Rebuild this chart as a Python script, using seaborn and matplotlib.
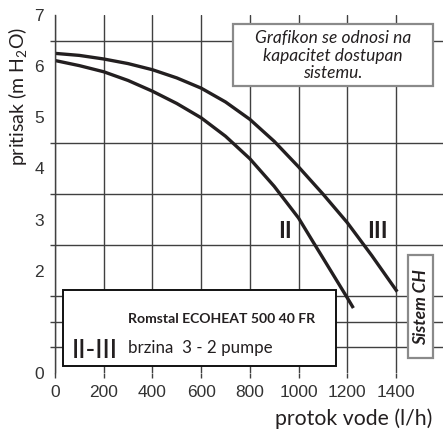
import matplotlib
matplotlib.use("Agg")
import matplotlib.pyplot as plt
import pandas as pd
import seaborn as sns
from matplotlib.patches import Rectangle

# pump curves (flow l/h, head m H2O)
flow_iii = [0, 100, 200, 300, 400, 500, 600, 700, 800, 900, 1000, 1100, 1200, 1300, 1405]
head_iii = [6.25, 6.21, 6.14, 6.05, 5.93, 5.77, 5.57, 5.30, 4.96, 4.53, 4.03, 3.50, 2.94, 2.30, 1.59]
flow_ii = [0, 100, 200, 300, 400, 500, 600, 700, 800, 900, 1000, 1060, 1100, 1150, 1200, 1225]
head_ii = [6.11, 6.01, 5.89, 5.72, 5.51, 5.27, 4.99, 4.63, 4.19, 3.65, 3.03, 2.56, 2.25, 1.86, 1.47, 1.27]

x_ticks = [0, 200, 400, 600, 800, 1000, 1200, 1400]
y_labels = [0, 2, 3, 4, 5, 6, 7]
y_grid = [0.5, 1, 1.5, 2, 2.5, 3, 3.5, 4, 4.5, 6, 6.5]

df = pd.concat([
    pd.DataFrame({"protok": flow_iii, "pritisak": head_iii, "brzina": "III"}),
    pd.DataFrame({"protok": flow_ii, "pritisak": head_ii, "brzina": "II"}),
])

sns.set_theme(style="white")
plt.rcParams["font.family"] = ["Lato", "DejaVu Sans"]
plt.rcParams["mathtext.fontset"] = "custom"
plt.rcParams["mathtext.rm"] = "Lato"
plt.rcParams["mathtext.it"] = "Lato:italic"

W, H = 443, 432
GRID = "#404040"
INK = "#231f20"

fig = plt.figure(figsize=(W / 100, H / 100), dpi=100)
ax = fig.add_axes([55 / W, 59 / H, 388 / W, 358 / H])

#%%
sns.lineplot(data=df, x="protok", y="pritisak", hue="brzina",
             palette=[INK, INK], lw=2.4, legend=False, ax=ax)
for line in ax.lines:
    line.set_solid_capstyle("butt")
    line.set_solid_joinstyle("round")

ax.set_xlim(0, 1593)
ax.set_ylim(0, 7)
ax.set_xlabel("")
ax.set_ylabel("")

for s in ["top", "right", "bottom"]:
    ax.spines[s].set_visible(False)
ax.spines["left"].set_color(GRID)
ax.spines["left"].set_linewidth(1.0)

ax.set_xticks(x_ticks)
ax.set_xticklabels([str(v) for v in x_ticks])
ax.set_yticks(y_labels)
ax.set_yticklabels([str(v) for v in y_labels])
ax.set_yticks(y_grid, minor=True)

ax.tick_params(axis="x", which="major", direction="out", length=3.6, width=1.0,
               color=GRID, pad=5, labelsize=12.5, labelcolor="#333333", bottom=True)
ax.tick_params(axis="y", which="major", length=0, pad=8, labelsize=12.5,
               labelcolor="#333333", left=True)
ax.tick_params(axis="y", which="minor", direction="out", length=3.6, width=1.0,
               color=GRID, left=True)
for lab in ax.get_xticklabels() + ax.get_yticklabels():
    lab.set_fontfamily("Liberation Sans")

ax.grid(False)
ax.grid(True, which="major", axis="x", color=GRID, lw=1.0)
ax.grid(True, which="minor", axis="y", color=GRID, lw=1.0)

# curve labels
ax.text(945, 2.76, "II", fontsize=16.5, color=INK, ha="center", va="center", weight="bold")
ax.text(1322, 2.76, "III", fontsize=16.5, color=INK, ha="center", va="center", weight="bold")


#%%
def box(x0, y0, x1, y1, ec, lw):
    fig.add_artist(Rectangle((x0 / W, 1 - y1 / H), (x1 - x0) / W, (y1 - y0) / H,
                             transform=fig.transFigure, facecolor="white",
                             edgecolor=ec, lw=lw, zorder=5))


def ftext(x, y, s, **kw):
    fig.text(x / W, 1 - y / H, s, zorder=6, **kw)


box(232.7, 24.3, 433, 85.7, "#8a8a8a", 1.6)
ftext(333, 55.5, "Grafikon se odnosi na\nkapacitet dostupan\nsistemu.", ha="center",
      va="center", style="italic", fontsize=12.5, linespacing=1.15, color=INK)

box(62.7, 290, 335.7, 365.7, "#111111", 1.4)
ftext(128, 319, "Romstal ECOHEAT 500 40 FR", ha="left", va="center",
      weight="bold", fontsize=10.1, color=INK)
ftext(72, 350, "II-III", ha="left", va="center", fontsize=18.5, color=INK, weight="medium")
ftext(128, 348, "brzina  3 - 2 pumpe", ha="left", va="center", fontsize=12.2, color=INK)

box(408.3, 255, 433.3, 358.3, "#8a8a8a", 1.6)
ftext(421, 307, "Sistem CH", ha="center", va="center", rotation=90,
      style="italic", weight="bold", fontsize=12.5, color=INK)

ftext(18, 96, "pritisak (m H$_2$O)", ha="center", va="center", rotation=90,
      fontsize=14, color=INK)
ftext(432, 419, "protok vode (l/h)", ha="right", va="center", fontsize=15.3, color=INK)

fig.savefig("out.png", dpi=100, facecolor="white")
